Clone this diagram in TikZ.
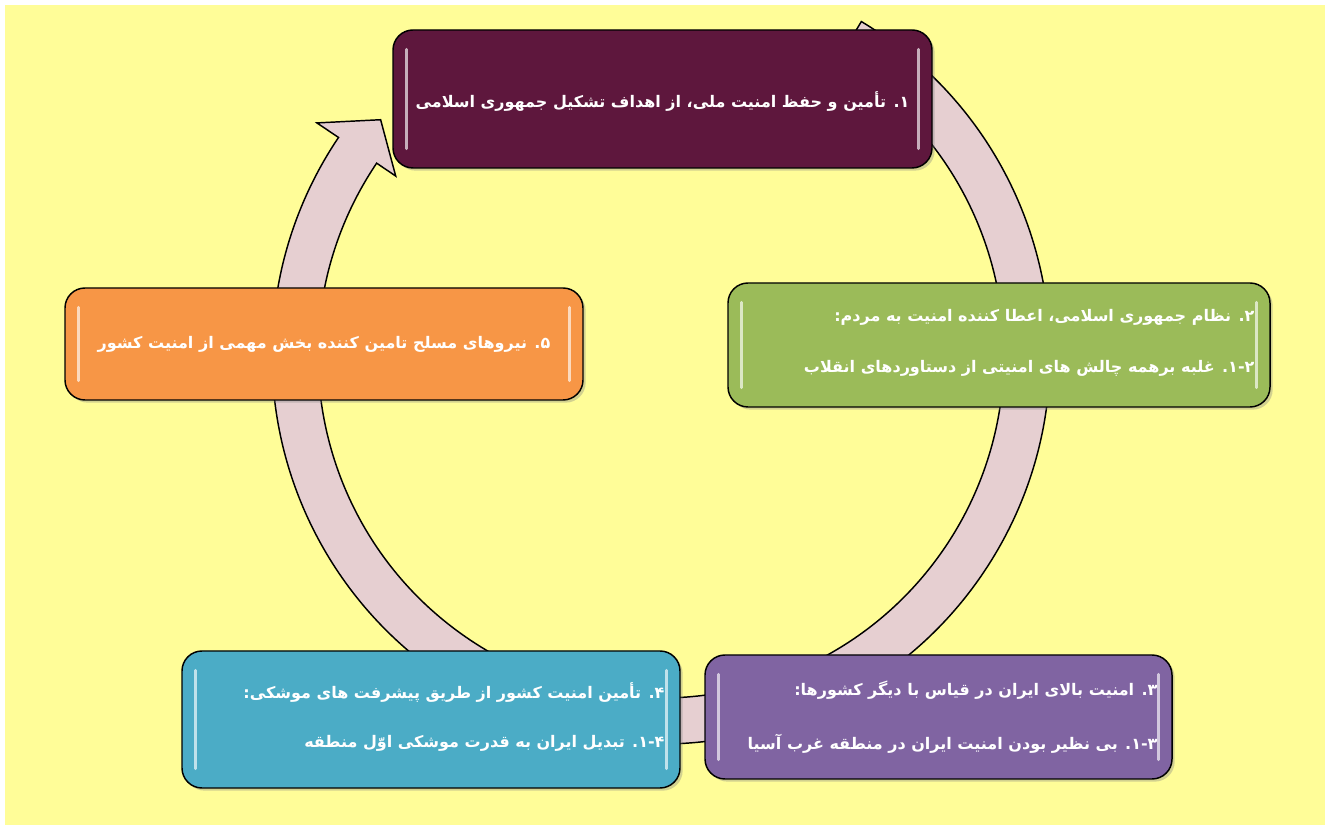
\documentclass[tikz,border=0pt]{standalone}
\usepackage{fontspec}
\newfontfamily\fafont[Script=Arabic]{DejaVu Sans}
\TeXXeTstate=1
\usetikzlibrary{calc}
\usetikzlibrary{shadows}
\definecolor{bgyellow}{HTML}{FFFD98}
\definecolor{ringpink}{HTML}{E6CFD1}
\definecolor{boxmaroon}{HTML}{5E173D}
\definecolor{boxgreen}{HTML}{9BBB59}
\definecolor{boxpurple}{HTML}{8064A2}
\definecolor{boxteal}{HTML}{4BACC6}
\definecolor{boxorange}{HTML}{F79646}

\begin{document}
\begin{tikzpicture}[x=0.75pt,y=0.75pt]
\tikzset{font=\fafont\bfseries\fontsize{12}{15}\selectfont}
\tikzset{ring/.style={draw=black, line width=1.1pt, fill=ringpink}}
\tikzset{stagebox/.style={draw=black, line width=1.1pt, rounded corners=15pt, inner sep=0pt, drop shadow={shadow xshift=2pt, shadow yshift=-2pt, opacity=0.35}}}
\tikzset{gloss/.style={draw=white, line width=2.2pt, line cap=round, opacity=0.65}}
\tikzset{stagetext/.style={text=white, anchor=east, inner sep=0pt}}
\useasboundingbox (0,0) rectangle (1330,830);
\fill[bgyellow] (5,5) rectangle (1325,825);
\coordinate (c) at (661,475);
\draw[ring] ($(c)+(59:389)$) arc[start angle=59, end angle=-214, radius=389]
  -- ($(c)+(-214:415)$) -- ($(c)+(-220:366)$) -- ($(c)+(-214:320)$)
  -- ($(c)+(-214:343)$) arc[start angle=-214, end angle=59, radius=343] -- cycle;
\node[stagebox, fill=boxmaroon, minimum width=404.25pt, minimum height=103.5pt] (b1) at (662.5,731) {};
\node[stagebox, fill=boxgreen, minimum width=406.5pt, minimum height=93pt] (b2) at (999,485) {};
\node[stagebox, fill=boxpurple, minimum width=350.25pt, minimum height=93pt] (b3) at (938.5,113) {};
\node[stagebox, fill=boxteal, minimum width=373.5pt, minimum height=102.75pt] (b4) at (431,110.5) {};
\node[stagebox, fill=boxorange, minimum width=388.5pt, minimum height=84pt] (b5) at (324,486) {};
\foreach \b in {b1,b2,b3,b4,b5} {
  \draw[gloss] ($(\b.north west)+(14,-20)$) -- ($(\b.south west)+(14,20)$);
  \draw[gloss] ($(\b.north east)+(-14,-20)$) -- ($(\b.south east)+(-14,20)$);
}
\node[stagetext, anchor=center] (t1) at ($(b1)+(0,-3)$) {\beginR ۱. تأمین و حفظ امنیت ملی، از اهداف تشکیل جمهوری اسلامی\endR};
\node[stagetext] (t2a) at ($(b2.east)+(-16,28)$) {\beginR ۲. نظام جمهوری اسلامی، اعطا کننده امنیت به مردم:\endR};
\node[stagetext] (t2b) at ($(b2.east)+(-16,-23)$) {\beginR ۱-۲. غلبه برهمه چالش های امنیتی از دستاوردهای انقلاب\endR};
\node[stagetext] (t3a) at ($(b3.east)+(-15,27)$) {\beginR ۳. امنیت بالای ایران در قیاس با دیگر کشورها:\endR};
\node[stagetext] (t3b) at ($(b3.east)+(-15,-27)$) {\beginR ۱-۳. بی نظیر بودن امنیت ایران در منطقه غرب آسیا\endR};
\node[stagetext] (t4a) at ($(b4.east)+(-16,27)$) {\beginR ۴. تأمین امنیت کشور از طریق پیشرفت های موشکی:\endR};
\node[stagetext] (t4b) at ($(b4.east)+(-16,-24)$) {\beginR ۱-۴. تبدیل ایران به قدرت موشکی اوّل منطقه\endR};
\node[stagetext, anchor=center] (t5) at (b5) {\beginR ۵. نیروهای مسلح تامین کننده بخش مهمی از امنیت کشور\endR};
\end{tikzpicture}
\end{document}
